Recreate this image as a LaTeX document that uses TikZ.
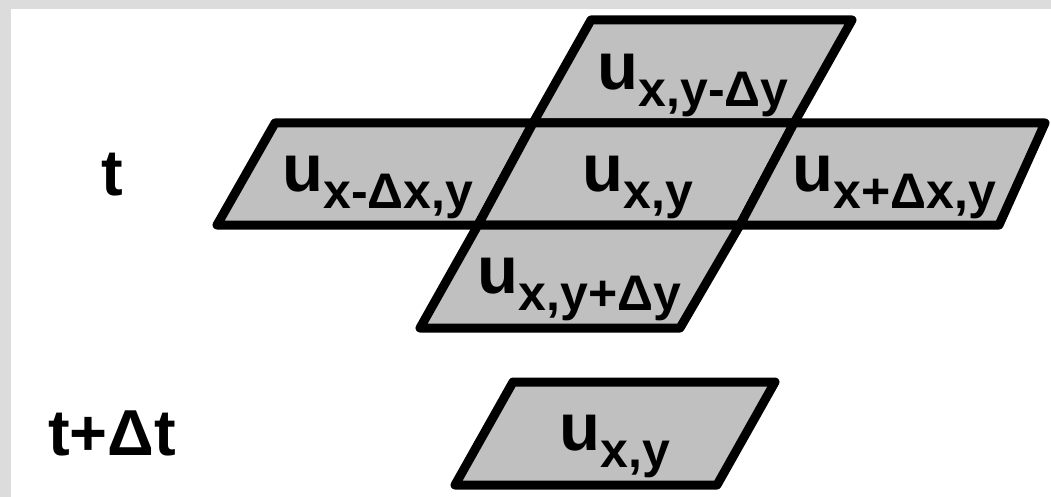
\documentclass[tikz,border=0pt]{standalone}
\usepackage{fontspec}
\setmainfont{Liberation Sans}
\usepackage{xcolor}
\usepackage{tikz}
\definecolor{cellgray}{HTML}{C0C0C0}
\definecolor{framegray}{HTML}{DCDCDC}
\newcommand{\lowsub}[1]{\raisebox{-17pt}{\fontsize{50}{54}\selectfont #1}}

\begin{document}
\begin{tikzpicture}[x=1pt, y=-1pt, font=\bfseries\fontsize{67}{72}\selectfont,
	cell/.style={draw, fill=cellgray, line width=9pt, line join=round},
	lab/.style={anchor=base, inner sep=0pt},
	timelab/.style={anchor=base, inner sep=0pt, font=\bfseries\fontsize{65}{70}\selectfont}]
		\useasboundingbox (0,0) rectangle (1051,497);
		\fill[white] (0,0) rectangle (1051,497);
		\fill[framegray] (0,0) rectangle (1051,9);
		\fill[framegray] (0,0) rectangle (11,497);
		% time step t
		\draw[cell] (533,123) -- (794,123) -- (852,20) -- (591,20) -- cycle;
		\draw[cell] (217,225) -- (478,225) -- (533,123) -- (275,123) -- cycle;
		\draw[cell] (478,225) -- (740,225) -- (794,123) -- (533,123) -- cycle;
		\draw[cell] (740,225) -- (999,225) -- (1045,123) -- (794,123) -- cycle;
		\draw[cell] (420,328) -- (680,328) -- (740,225) -- (478,225) -- cycle;
		% time step t+dt
		\draw[cell] (455,485) -- (717,485) -- (775,382) -- (513,382) -- cycle;
		\node[lab] (up) at (693,89.5) {u\lowsub{x,y-Δy}};
		\node[lab] (left) at (378,192) {u\lowsub{x-Δx,y}};
		\node[lab] (centre) at (638,192) {u\lowsub{x,y}};
		\node[lab] (right) at (894.5,192) {u\lowsub{x+Δx,y}};
		\node[lab] (down) at (579.5,293) {u\lowsub{x,y+Δy}};
		\node[lab] (next) at (615,450) {u\lowsub{x,y}};
		\node[timelab] (t) at (112,195) {t};
		\node[timelab] (tnext) at (112,455) {t+Δt};
	\end{tikzpicture}
\end{document}
